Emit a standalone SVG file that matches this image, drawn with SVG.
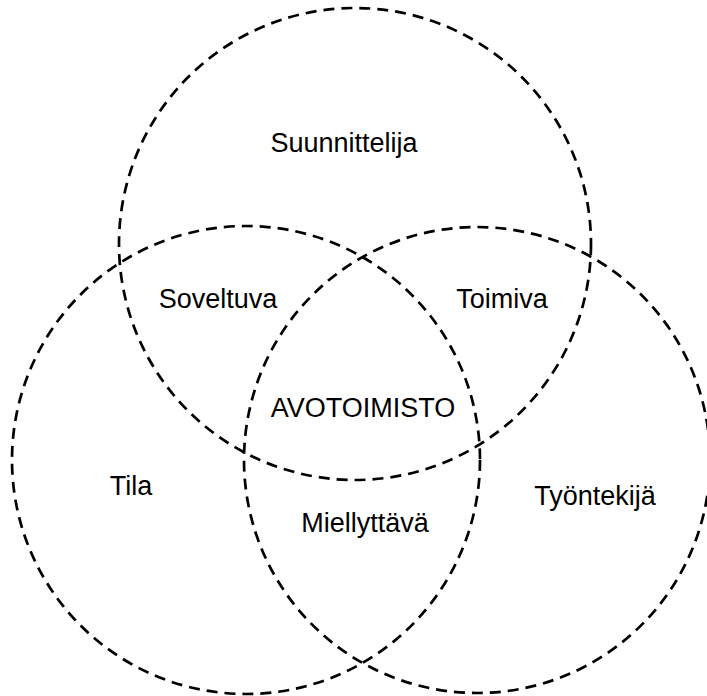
<svg xmlns="http://www.w3.org/2000/svg" width="707" height="696" viewBox="0 0 707 696">
<style>
.c{fill:none;stroke:#000;stroke-width:2.7;stroke-dasharray:11 7}
.t{font-family:"Liberation Sans",Arial,sans-serif;font-size:27px;fill:#000;text-anchor:middle}
</style>
<rect width="707" height="696" fill="#fff"/>
<g id="connectors"></g>
<g id="suunnittelija">
<circle class="c" cx="355" cy="244" r="236"/>
<text class="t" x="344" y="152">Suunnittelija</text>
</g>
<g id="tila">
<circle class="c" cx="246" cy="460" r="234"/>
<text class="t" x="131" y="495">Tila</text>
</g>
<g id="tyontekija">
<circle class="c" cx="477" cy="460" r="233"/>
<text class="t" x="595" y="505">Työntekijä</text>
</g>
<g id="soveltuva"><text class="t" x="218" y="308">Soveltuva</text></g>
<g id="toimiva"><text class="t" x="502" y="308">Toimiva</text></g>
<g id="avotoimisto"><text class="t" x="363" y="417">AVOTOIMISTO</text></g>
<g id="miellyttava"><text class="t" x="365" y="532">Miellyttävä</text></g>
</svg>
